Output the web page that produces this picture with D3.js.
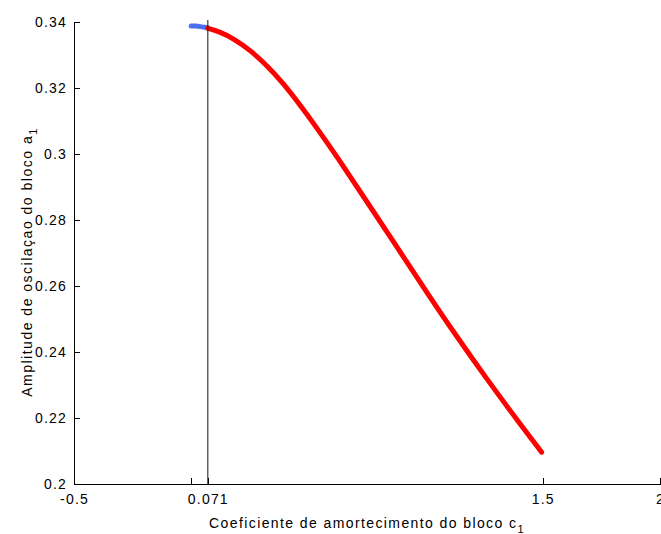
<!DOCTYPE html>
<html>
<head>
<meta charset="utf-8">
<script src="https://cdn.jsdelivr.net/npm/d3@7"></script>
<style>
  body { margin: 0; background: #fff; }
  text { font-family: "Liberation Sans", Arial, sans-serif; font-size: 14px; fill: #000; }
</style>
</head>
<body>
<div id="chart"></div>
<script>
// curve readings, blue part before the marked value, red part after it
var blueX = [0, 0.02, 0.04, 0.06, 0.071];
var blueY = [0.3388, 0.3388, 0.3386, 0.3384, 0.3382];
var redX = [0.071, 0.123, 0.18, 0.251, 0.322, 0.393, 0.464, 0.535, 0.621, 0.734, 0.877, 1.019, 1.118, 1.261, 1.403, 1.495];
var redY = [0.3381, 0.3370, 0.3350, 0.3315, 0.3269, 0.3214, 0.3149, 0.3080, 0.2993, 0.2872, 0.2719, 0.2566, 0.2462, 0.2318, 0.2182, 0.2096];
var markX = 0.071;

var xTicks = [-0.5, 0, 0.071, 1.5, 2];
var xTickLabels = ["-0.5", "", "0.071", "1.5", "2"];
var yTicks = [0.2, 0.22, 0.24, 0.26, 0.28, 0.3, 0.32, 0.34];
var yTickLabels = ["0.2", "0.22", "0.24", "0.26", "0.28", "0.3", "0.32", "0.34"];

var WIDTH = 661, HEIGHT = 534;
var LEFT = 74, RIGHT = 660, TOP = 22, BOTTOM = 484;

var svg = d3.select("#chart").append("svg")
    .attr("width", WIDTH)
    .attr("height", HEIGHT);

var x = d3.scaleLinear().domain([-0.5, 2]).range([LEFT, RIGHT]);
var y = d3.scaleLinear().domain([0.2, 0.34]).range([BOTTOM, TOP]);

// curves
var line = d3.line()
    .x(function (d) { return x(d[0]); })
    .y(function (d) { return y(d[1]); })
    .curve(d3.curveBasis);

svg.append("path")
    .datum(d3.zip(blueX, blueY))
    .attr("d", line)
    .attr("fill", "none")
    .attr("stroke", "#4d6ff0")
    .attr("stroke-width", 5)
    .attr("stroke-linecap", "round");

svg.append("path")
    .datum(d3.zip(redX, redY))
    .attr("d", line)
    .attr("fill", "none")
    .attr("stroke", "#ff0000")
    .attr("stroke-width", 5)
    .attr("stroke-linecap", "round");

// vertical marker line
svg.append("line")
    .attr("x1", x(markX)).attr("x2", x(markX))
    .attr("y1", BOTTOM).attr("y2", TOP - 2)
    .attr("stroke", "#111")
    .attr("stroke-width", 1);

// axes, matlab style: ticks pointing inside
var xAxis = d3.axisBottom(x)
    .tickValues(xTicks)
    .tickSizeInner(-6)
    .tickSizeOuter(0)
    .tickPadding(10)
    .tickFormat(function (d, i) { return xTickLabels[i]; });

var yAxis = d3.axisLeft(y)
    .tickValues(yTicks)
    .tickSizeInner(-6)
    .tickSizeOuter(0)
    .tickPadding(10)
    .tickFormat(function (d, i) { return yTickLabels[i]; });

var gx = svg.append("g")
    .attr("transform", "translate(0," + BOTTOM + ")")
    .call(xAxis);
var gy = svg.append("g")
    .attr("transform", "translate(" + LEFT + ",0)")
    .call(yAxis);

[gx, gy].forEach(function (g) {
  g.selectAll("path,line").attr("stroke", "#000").attr("shape-rendering", "crispEdges");
  g.selectAll("text")
      .attr("font-family", null)
      .attr("font-size", null)
      .style("letter-spacing", "1.2px");
});
gx.selectAll("text").attr("dy", "0.71em").attr("y", 10);
gy.selectAll("text").attr("x", -7);

// axis titles
var xl = svg.append("text")
    .attr("x", (LEFT + RIGHT) / 2)
    .attr("y", 528)
    .attr("text-anchor", "middle")
    .style("letter-spacing", "1.4px");
xl.append("tspan").text("Coeficiente de amortecimento do bloco c");
xl.append("tspan").attr("dy", 5).style("font-size", "11px").text("1");

var yl = svg.append("text")
    .attr("transform", "translate(32," + 262 + ") rotate(-90)")
    .attr("text-anchor", "middle")
    .style("letter-spacing", "1.5px");
yl.append("tspan").text("Amplitude de oscilaçao do bloco a");
yl.append("tspan").attr("dy", 5).style("font-size", "11px").text("1");
</script>
</body>
</html>
